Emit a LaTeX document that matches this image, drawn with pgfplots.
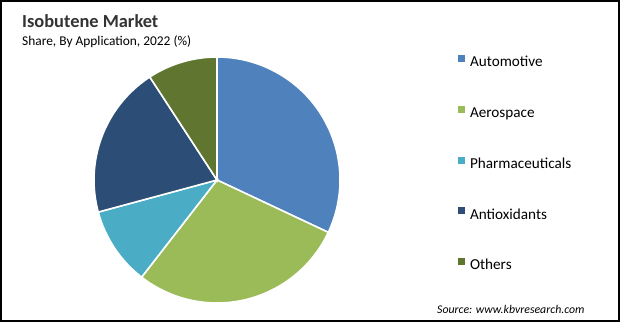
\documentclass[border=0pt]{standalone}
\usepackage{pgfplots}
\pgfplotsset{compat=1.18}
\usepackage{fontspec}
\setmainfont{Carlito}
\definecolor{cAuto}{RGB}{79,129,189}
\definecolor{cAero}{RGB}{155,187,89}
\definecolor{cPharma}{RGB}{75,172,198}
\definecolor{cAnti}{RGB}{44,77,117}
\definecolor{cOther}{RGB}{95,117,48}
% start (cumulative %), share (%), colour, name
\newcommand{\slice}[4]{%
  \pgfmathsetmacro\sa{90-3.6*(#1+#2)}%
  \pgfmathsetmacro\sb{90-3.6*(#1)}%
  \edef\tmp{\noexpand\addplot[fill=#3, draw=white, line width=1.6bp, domain=\sa:\sb, samples=90] ({cos(x)},{sin(x)}) -- (axis cs:0,0) -- cycle;}%
  \tmp
  \addlegendentry{#4}%
}
\begin{document}
\begin{tikzpicture}[x=1bp,y=1bp]
\useasboundingbox (0,0) rectangle (620,322);
\fill[white] (0,0) rectangle (620,322);
\begin{axis}[
  at={(217bp,142bp)}, anchor=center,
  scale only axis, width=246bp, height=246bp,
  xmin=-1, xmax=1, ymin=-1, ymax=1,
  hide axis, clip=false,
  legend cell align=left,
  legend image code/.code={\path[#1, draw=none] (0bp,1bp) rectangle (6.8bp,7.8bp);},
  legend style={at={(1.4797,1.0081)}, anchor=north west, draw=none, fill=none,
    inner sep=0pt, column sep=5bp, row sep=35.7bp,
    nodes={inner sep=0pt, text height=11bp, text depth=3.5bp, font=\fontsize{15.2bp}{18bp}\selectfont}},
]
\slice{0}{32.0}{cAuto}{Automotive}
\slice{32.0}{28.5}{cAero}{Aerospace}
\slice{60.5}{10.3}{cPharma}{Pharmaceuticals}
\slice{70.8}{20.0}{cAnti}{Antioxidants}
\slice{90.8}{9.2}{cOther}{Others}
\end{axis}
\node[anchor=base west, inner sep=0pt, text=black!80, font=\fontsize{18.4bp}{22bp}\selectfont\bfseries] at (22,295) {Isobutene Market};
\node[anchor=base west, inner sep=0pt, font=\fontsize{13.4bp}{16bp}\selectfont] at (22,277) {Share, By Application, 2022 (\%)};
\node[anchor=base west, inner sep=0pt, font=\fontsize{11.8bp}{14bp}\selectfont\itshape] at (437,9) {Source: www.kbvresearch.com};
\draw[black, line width=2bp] (1,1) rectangle (618.5,321);
\end{tikzpicture}
\end{document}
